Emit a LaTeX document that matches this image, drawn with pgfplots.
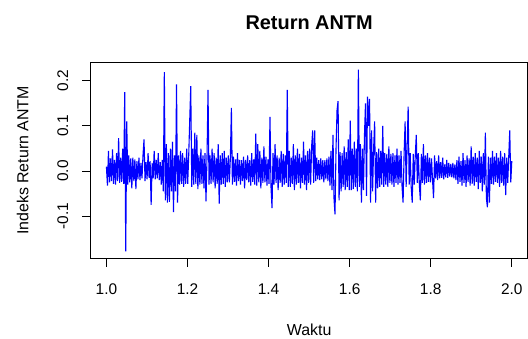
\documentclass[border=0pt]{standalone}
\usepackage{fontspec}
\setmainfont{Liberation Sans}
\usepackage{pgfplots}
\pgfplotsset{compat=1.18}
\usepackage{pgfplotstable}
\pgfplotstableread[row sep=\\]{
y\\
0.010\\ -0.032\\ 0.045\\ -0.025\\ 0.028\\ -0.022\\ 0.048\\ -0.028\\ 0.025\\ -0.030\\ 0.040\\ -0.022\\ 0.073\\ -0.026\\ 0.030\\ -0.024\\ 0.050\\ -0.028\\ 0.175\\ -0.178\\
0.110\\ -0.030\\ 0.035\\ -0.025\\ 0.028\\ -0.038\\ 0.030\\ -0.022\\ 0.026\\ -0.040\\ 0.022\\ -0.018\\ 0.030\\ -0.020\\ 0.018\\ -0.016\\ 0.035\\ 0.070\\ -0.022\\ 0.020\\
-0.018\\ 0.040\\ -0.015\\ 0.022\\ -0.075\\ 0.018\\ -0.016\\ 0.045\\ -0.018\\ 0.025\\ -0.016\\ 0.040\\ -0.020\\ 0.020\\ -0.030\\ 0.025\\ -0.045\\ 0.219\\ -0.065\\ 0.060\\
-0.070\\ 0.040\\ -0.068\\ 0.050\\ -0.045\\ 0.065\\ -0.091\\ 0.035\\ -0.045\\ 0.192\\ -0.070\\ 0.035\\ -0.030\\ 0.045\\ -0.028\\ 0.040\\ -0.035\\ 0.030\\ -0.028\\ 0.050\\
-0.028\\ 0.035\\ 0.113\\ 0.188\\ -0.035\\ 0.050\\ -0.030\\ 0.085\\ -0.028\\ 0.080\\ -0.040\\ 0.035\\ -0.030\\ 0.050\\ -0.028\\ 0.035\\ -0.038\\ 0.040\\ -0.067\\ 0.030\\
0.180\\ -0.030\\ 0.035\\ -0.028\\ 0.050\\ -0.025\\ 0.040\\ -0.038\\ 0.030\\ -0.028\\ 0.060\\ -0.072\\ 0.035\\ -0.030\\ 0.040\\ -0.028\\ 0.045\\ -0.035\\ 0.030\\ -0.025\\
0.035\\ -0.025\\ 0.030\\ 0.140\\ -0.030\\ 0.032\\ -0.024\\ 0.026\\ -0.032\\ 0.040\\ -0.022\\ 0.025\\ -0.030\\ 0.024\\ -0.022\\ 0.032\\ -0.038\\ 0.025\\ -0.020\\ 0.035\\
-0.025\\ 0.024\\ -0.032\\ 0.040\\ -0.024\\ 0.026\\ -0.030\\ 0.083\\ -0.032\\ 0.060\\ -0.025\\ 0.045\\ -0.038\\ 0.030\\ -0.026\\ 0.055\\ -0.025\\ 0.032\\ -0.032\\ 0.026\\
-0.028\\ 0.120\\ -0.035\\ -0.082\\ 0.040\\ -0.030\\ 0.060\\ -0.026\\ 0.035\\ -0.042\\ 0.030\\ -0.026\\ 0.045\\ -0.035\\ 0.038\\ -0.030\\ 0.035\\ -0.026\\ 0.180\\ -0.035\\
0.045\\ -0.035\\ 0.030\\ -0.028\\ 0.060\\ -0.042\\ 0.035\\ -0.030\\ 0.050\\ -0.026\\ 0.038\\ -0.038\\ 0.030\\ -0.026\\ 0.065\\ -0.030\\ 0.035\\ -0.042\\ 0.045\\ -0.026\\
0.050\\ -0.030\\ 0.055\\ 0.090\\ -0.026\\ 0.090\\ -0.022\\ 0.030\\ -0.018\\ 0.024\\ -0.020\\ 0.028\\ -0.018\\ 0.024\\ -0.025\\ 0.024\\ -0.018\\ 0.028\\ -0.022\\ 0.032\\
-0.032\\ 0.045\\ -0.042\\ 0.080\\ -0.060\\ -0.096\\ 0.050\\ 0.135\\ 0.155\\ -0.065\\ 0.042\\ -0.045\\ 0.040\\ -0.035\\ 0.055\\ -0.042\\ 0.042\\ -0.035\\ 0.070\\ -0.042\\
0.112\\ -0.042\\ 0.050\\ -0.040\\ 0.065\\ -0.035\\ 0.050\\ -0.045\\ 0.225\\ -0.035\\ 0.060\\ -0.070\\ 0.050\\ -0.042\\ 0.080\\ 0.150\\ -0.055\\ 0.165\\ 0.100\\ 0.160\\
-0.070\\ 0.090\\ -0.045\\ 0.050\\ 0.110\\ -0.070\\ 0.042\\ -0.038\\ 0.050\\ -0.035\\ 0.045\\ -0.030\\ 0.100\\ -0.035\\ 0.040\\ -0.030\\ 0.038\\ -0.035\\ 0.055\\ -0.026\\
0.038\\ -0.030\\ 0.040\\ -0.035\\ 0.035\\ -0.026\\ 0.050\\ -0.030\\ 0.035\\ -0.026\\ 0.045\\ -0.035\\ -0.070\\ 0.038\\ 0.110\\ -0.035\\ 0.055\\ 0.143\\ -0.030\\ 0.040\\
-0.035\\ -0.070\\ 0.038\\ -0.030\\ 0.035\\ 0.080\\ -0.026\\ 0.040\\ -0.030\\ -0.065\\ 0.038\\ -0.026\\ 0.060\\ -0.030\\ 0.035\\ -0.026\\ 0.040\\ -0.024\\ 0.030\\ -0.025\\
0.028\\ -0.020\\ -0.060\\ 0.035\\ -0.016\\ 0.022\\ -0.020\\ 0.035\\ -0.016\\ 0.020\\ -0.015\\ 0.030\\ -0.018\\ 0.015\\ -0.014\\ 0.025\\ -0.015\\ 0.018\\ -0.012\\ 0.016\\
-0.014\\ 0.018\\ -0.016\\ 0.015\\ -0.020\\ 0.024\\ -0.028\\ 0.032\\ -0.024\\ 0.022\\ -0.032\\ 0.040\\ -0.026\\ 0.024\\ -0.035\\ 0.035\\ -0.024\\ 0.028\\ -0.032\\ 0.055\\
-0.028\\ 0.032\\ -0.032\\ 0.040\\ -0.024\\ 0.030\\ -0.040\\ 0.045\\ -0.026\\ 0.032\\ -0.045\\ 0.040\\ -0.030\\ 0.085\\ -0.060\\ -0.080\\ 0.032\\ -0.070\\ 0.030\\ -0.028\\
0.045\\ -0.030\\ 0.032\\ -0.024\\ 0.040\\ -0.026\\ 0.030\\ -0.035\\ 0.045\\ -0.026\\ 0.032\\ -0.032\\ 0.040\\ -0.053\\ 0.030\\ -0.026\\ 0.032\\ 0.090\\ -0.025\\ 0.022\\
}\ret
\begin{document}
\begin{tikzpicture}
\begin{axis}[
  at={(0,0)}, anchor=south west,
  scale only axis,
  width=438.2bp, height=196.7bp,
  xmin=0.96, xmax=2.04, ymin=-0.19412, ymax=0.24112,
  axis line style={black, line width=1bp},
  axis on top,
  xtick={1.0,1.2,1.4,1.6,1.8,2.0},
  ytick={-0.1,0,0.1,0.2},
  xtick pos=bottom, ytick pos=left,
  tick align=outside,
  major tick length=8bp,
  tick style={black, line width=1bp},
  tick label style={font=\fontsize{15.5}{18}\selectfont},
  xticklabel style={anchor=base, yshift=-28bp, /pgf/number format/.cd, fixed, fixed zerofill, precision=1, assume math mode=true},
  yticklabel style={rotate=90, anchor=base, yshift=14bp, /pgf/number format/.cd, fixed, fixed zerofill, precision=1, assume math mode=true},
]
\addplot[blue, line width=1.1bp] table[x expr={1+\coordindex/399}, y=y] {\ret};
\end{axis}
\draw[black, line width=1.1bp] (0,0) rectangle (438.2bp,196.7bp);
\node[anchor=base, font=\bfseries\fontsize{20}{24}\selectfont] at (219.1bp,229bp) {Return ANTM};
\node[anchor=base, font=\fontsize{16}{19}\selectfont] at (219.1bp,-77bp) {Waktu};
\node[rotate=90, anchor=base, font=\fontsize{16}{19}\selectfont] at (-62bp,98.35bp) {Indeks Return ANTM};
\pgfresetboundingbox
\path[use as bounding box] (-90.3bp,-80bp) rectangle (438.2bp,259bp);
\end{tikzpicture}
\end{document}
